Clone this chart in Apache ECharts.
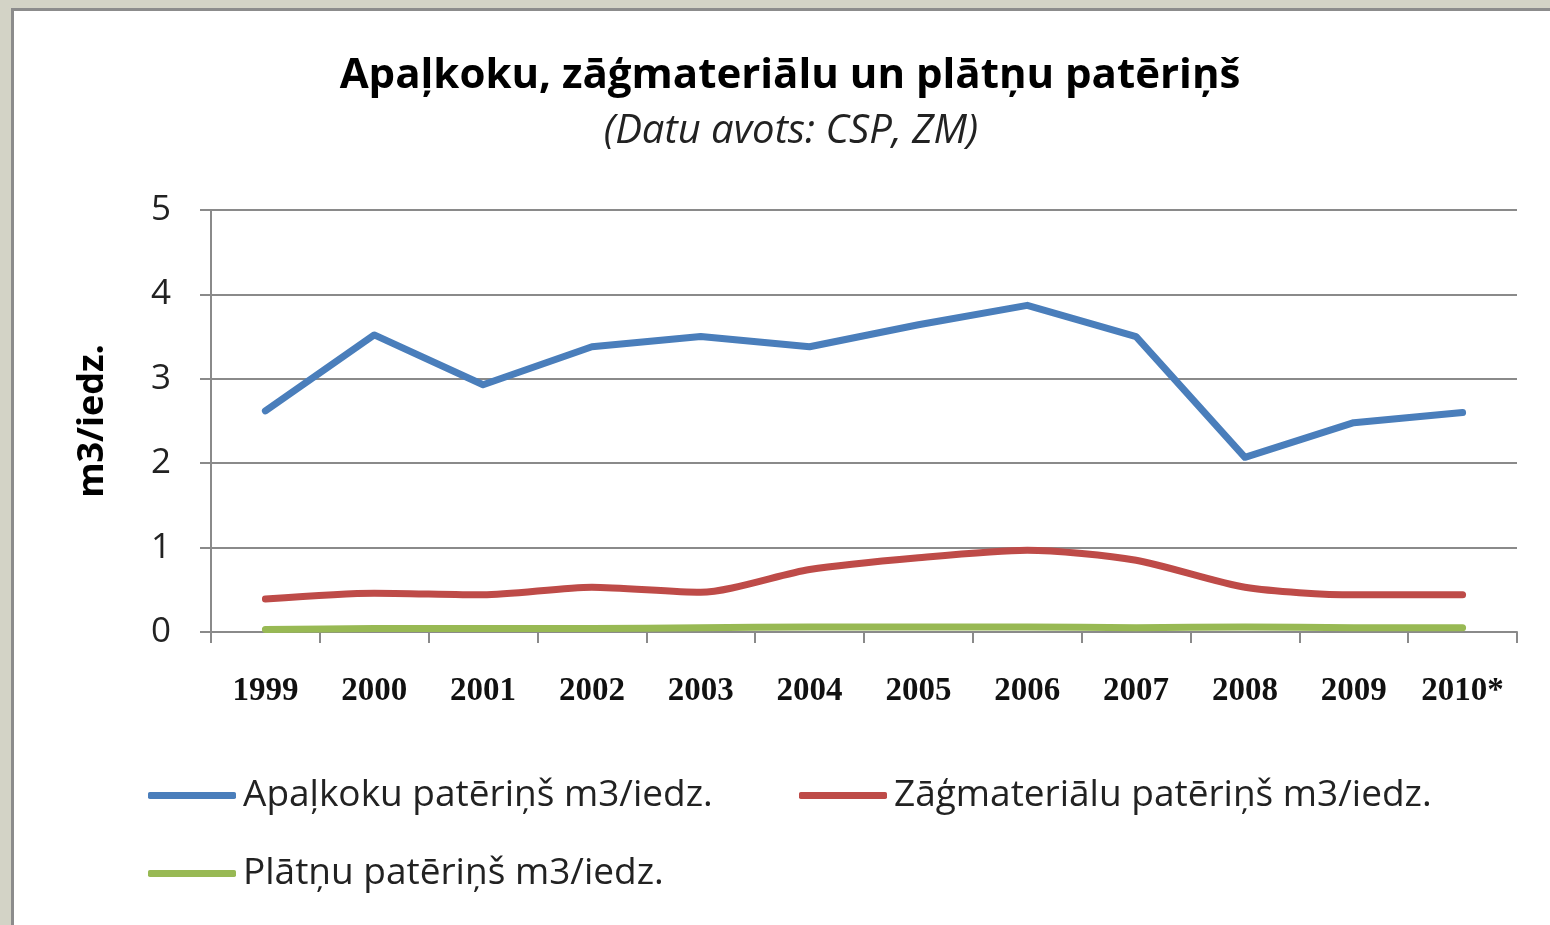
<!DOCTYPE html>
<html>
<head>
<meta charset="utf-8">
<script src="https://cdn.jsdelivr.net/npm/echarts@6/dist/echarts.min.js"></script>
<style>
  html, body { margin: 0; padding: 0; }
  body { width: 1550px; height: 925px; background: #d3d3c6; position: relative; overflow: hidden; }
  .frame { position: absolute; left: 11px; top: 8px; width: 1560px; height: 940px; background: #fff;
           border-left: 3px solid #8c8c8c; border-top: 3px solid #8c8c8c; }
  #chart { position: absolute; left: 0; top: 0; width: 1550px; height: 925px; }
</style>
</head>
<body>
<div class="frame"></div>
<div id="chart"></div>
<script>
  // gadi
  var years = ['1999', '2000', '2001', '2002', '2003', '2004', '2005', '2006', '2007', '2008', '2009', '2010*'];
  // patēriņš m3/iedz.
  var apalkoki = [2.62, 3.52, 2.93, 3.38, 3.50, 3.38, 3.64, 3.87, 3.50, 2.07, 2.48, 2.60];
  var zagmaterialI = [0.39, 0.46, 0.44, 0.53, 0.47, 0.74, 0.88, 0.97, 0.85, 0.53, 0.44, 0.44];
  var platnes = [0.03, 0.04, 0.04, 0.04, 0.05, 0.06, 0.06, 0.06, 0.05, 0.06, 0.05, 0.05];
  var yTicks = [0, 1, 2, 3, 4, 5];

  var names = ['Apaļkoku patēriņš m3/iedz.', 'Zāģmateriālu patēriņš m3/iedz.', 'Plātņu patēriņš m3/iedz.'];
  var colors = ['#4a7ebb', '#be4b48', '#98b954'];
  var font = '"Open Sans", "Noto Sans", sans-serif';

  var myChart = echarts.init(document.getElementById('chart'));

  function legendAt(name, left, top) {
    return {
      data: [name], left: left, top: top, padding: 0,
      itemWidth: 88, itemHeight: 7, itemGap: 0,
      icon: 'roundRect',
      textStyle: { fontFamily: font, fontSize: 37, color: '#222', padding: [0, 0, 0, 2] }
    };
  }

  myChart.setOption({
    backgroundColor: 'transparent',
    animation: false,
    title: [
      {
        text: 'Apaļkoku, zāģmateriālu un plātņu patēriņš',
        left: 785, top: 50, textAlign: 'center',
        textStyle: { fontFamily: font, fontSize: 42, fontWeight: 'bold', color: '#000' }
      },
      {
        text: '(Datu avots: CSP, ZM)',
        left: 786, top: 107, textAlign: 'center',
        textStyle: { fontFamily: font, fontSize: 40, fontStyle: 'italic', fontWeight: 'normal', color: '#222' }
      }
    ],
    legend: [
      legendAt(names[0], 148, 777),
      legendAt(names[1], 799, 777),
      legendAt(names[2], 148, 855)
    ],
    grid: { left: 211, right: 33, top: 210, bottom: 293 },
    xAxis: {
      type: 'category',
      data: years,
      boundaryGap: true,
      axisLine: { lineStyle: { color: '#8a8a8a', width: 2 } },
      axisTick: { show: true, interval: 0, length: 11, lineStyle: { color: '#8a8a8a', width: 2 } },
      axisLabel: { interval: 0, margin: 43, fontFamily: '"Liberation Serif", serif', fontWeight: 'bold', fontSize: 33, color: '#111' }
    },
    yAxis: {
      type: 'value',
      min: yTicks[0], max: yTicks[yTicks.length - 1], interval: 1,
      name: 'm3/iedz.',
      nameLocation: 'middle',
      nameRotate: 90,
      nameGap: 100,
      nameTextStyle: { fontFamily: font, fontSize: 36, fontWeight: 'bold', color: '#000' },
      axisLine: { show: true, lineStyle: { color: '#8a8a8a', width: 2 } },
      axisTick: { show: true, length: 11, lineStyle: { color: '#8a8a8a', width: 2 } },
      axisLabel: { margin: 40, fontFamily: font, fontSize: 35, color: '#222' },
      splitLine: { lineStyle: { color: '#8a8a8a', width: 2 } }
    },
    series: [
      {
        name: names[0], type: 'line', data: apalkoki, symbol: 'none',
        itemStyle: { color: colors[0] },
        lineStyle: { color: colors[0], width: 7, cap: 'round', join: 'round' }
      },
      {
        name: names[1], type: 'line', data: zagmaterialI, symbol: 'none', smooth: 0.25,
        itemStyle: { color: colors[1] },
        lineStyle: { color: colors[1], width: 7, cap: 'round', join: 'round' }
      },
      {
        name: names[2], type: 'line', data: platnes, symbol: 'none', smooth: 0.25,
        itemStyle: { color: colors[2] },
        lineStyle: { color: colors[2], width: 7, cap: 'round', join: 'round' }
      }
    ]
  });
</script>
</body>
</html>
